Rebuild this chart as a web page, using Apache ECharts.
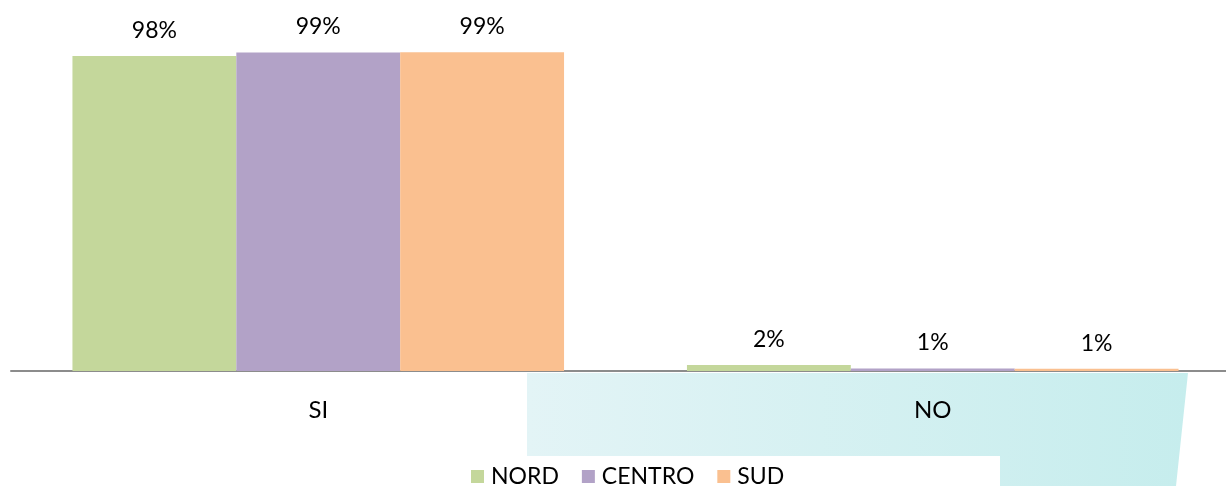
<!DOCTYPE html>
<html>
<head>
<meta charset="utf-8">
<script src="https://cdn.jsdelivr.net/npm/echarts@6/dist/echarts.min.js"></script>
<style>
  html, body { margin: 0; padding: 0; background: #fff; overflow: hidden; }
  #chart { width: 1240px; height: 486px; }
</style>
</head>
<body>
<div id="chart"></div>
<script>
const categories = ['SI', 'NO']
const chartData = [
  { name: 'NORD', values: [98.1, 1.9], labelWidth: 71 },
  { name: 'CENTRO', values: [99.2, 0.8], labelWidth: 95 },
  { name: 'SUD', values: [99.3, 0.7], labelWidth: 47 }
]
const colors = ['#c4d79b', '#b2a2c7', '#fac090']
const font = 'Lato, "Noto Sans", sans-serif'

const chart = echarts.init(document.getElementById('chart'))

const series = chartData.map(item => ({
  name: item.name,
  type: 'bar',
  data: item.values,
  barGap: 0,
  barCategoryGap: '20%',
  label: {
    show: true,
    position: 'top',
    distance: 14,
    color: '#000',
    fontFamily: font,
    fontSize: 23,
    formatter: p => Math.round(p.value) + '%'
  },
  z: 2
}))

chart.setOption({
  animation: false,
  color: colors,
  grid: {
    left: 11,
    top: 50,
    right: 0,
    height: 321
  },
  legend: {
    left: 466,
    top: 460,
    itemWidth: 13,
    itemHeight: 13,
    itemGap: 23,
    icon: 'rect',
    data: chartData.map(item => ({
      name: item.name,
      textStyle: { width: item.labelWidth }
    })),
    textStyle: { color: '#000', fontFamily: font, fontSize: 23, padding: [0, 0, 0, 2] }
  },
  graphic: [
    {
      type: 'polygon',
      z: -10,
      shape: {
        points: [[527, 373], [1188, 373], [1176, 486], [1000, 486], [1000, 456], [527, 456]]
      },
      style: {
        fill: new echarts.graphic.LinearGradient(0, 0, 1, 0, [
          { offset: 0, color: '#e3f4f6' },
          { offset: 1, color: '#c6eded' }
        ])
      }
    }
  ],
  xAxis: {
    type: 'category',
    data: categories,
    axisTick: { show: false },
    axisLine: { lineStyle: { color: '#8c8c8c', width: 2 } },
    axisLabel: { color: '#000', fontFamily: font, fontSize: 24, margin: 27 }
  },
  yAxis: {
    type: 'value',
    min: 0,
    max: 100,
    show: false,
    splitLine: { show: false }
  },
  series: series
})
</script>
</body>
</html>
